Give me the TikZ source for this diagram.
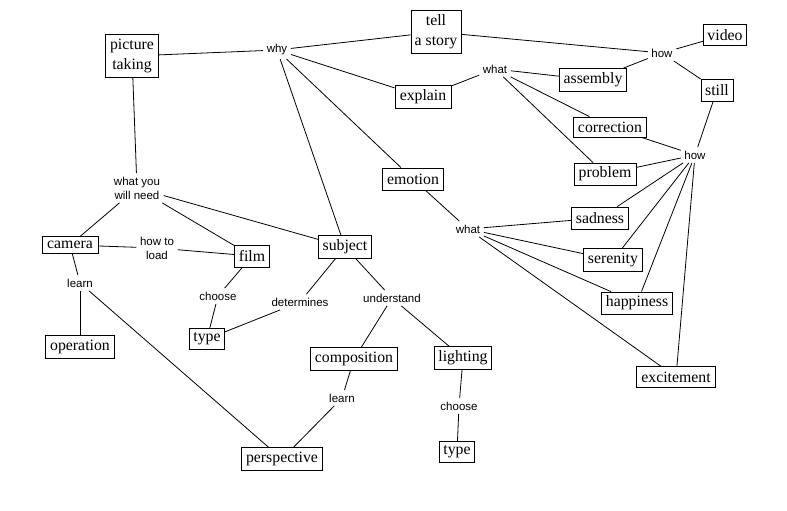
\documentclass[tikz,border=0pt]{standalone}
\usepackage{fontspec}
\setmainfont{Liberation Serif}
\newfontfamily\lblfont{Liberation Sans}
\begin{document}
\begin{tikzpicture}[x=1pt,y=-1pt,
  box/.style={draw, line width=0.8pt, inner sep=0pt, font=\fontsize{15.8}{20}\selectfont, align=center, minimum height=22pt},
  lbl/.style={inner sep=3.5pt, font=\lblfont\fontsize{11.5}{14}\selectfont, align=center},
  conn/.style={line width=0.8pt, draw=black}]
\useasboundingbox[fill=white] (0,0) rectangle (787,511);

% boxes
\node[box, minimum width=53pt, minimum height=43pt] (pic) at (132,56) {picture\\taking};
\node[box, minimum width=50pt, minimum height=43pt] (tell) at (436,32) {tell\\a story};
\node[box, minimum width=56pt, minimum height=17pt] (camera) at (70,245) {camera};
\node[box, minimum width=35pt] (film) at (252,256) {film};
\node[box, minimum width=53pt, minimum height=23pt] (subject) at (345,247) {subject};
\node[box, minimum width=43pt, minimum height=21pt] (video) at (725,35) {video};
\node[box, minimum width=67pt, minimum height=23pt] (assembly) at (593,80) {assembly};
\node[box, minimum width=32pt] (still) at (717,90) {still};
\node[box, minimum width=56pt, minimum height=23pt] (explain) at (423,97) {explain};
\node[box, minimum width=73pt, minimum height=20pt] (correction) at (610,127) {correction};
\node[box, minimum width=62pt] (problem) at (605,174) {problem};
\node[box, minimum width=61pt, minimum height=22pt] (emotion) at (413,179) {emotion};
\node[box, minimum width=57pt] (sadness) at (600,218) {sadness};
\node[box, minimum width=59pt, minimum height=23pt] (serenity) at (613,260) {serenity};
\node[box, minimum width=71pt] (happiness) at (637,303) {happiness};
\node[box, minimum width=79pt, minimum height=21pt] (excitement) at (676,377) {excitement};
\node[box, minimum width=57pt, minimum height=23pt] (lighting) at (463,358) {lighting};
\node[box, minimum width=35pt, minimum height=21pt] (typeB) at (457,452) {type};
\node[box, minimum width=69pt, minimum height=23pt] (operation) at (80,347) {operation};
\node[box, minimum width=35pt, minimum height=21pt] (typeL) at (207,339) {type};
\node[box, minimum width=87pt, minimum height=23pt] (composition) at (354,359) {composition};
\node[box, minimum width=81pt, minimum height=23pt] (perspective) at (282,459) {perspective};

% labels
\node[lbl] (why) at (277,50) {why};
\node[lbl] (need) at (137,188) {what you\\will need};
\node[lbl] (load) at (157,248) {how to\\load};
\node[lbl] (howT) at (662,53) {how};
\node[lbl] (whatT) at (495,69) {what};
\node[lbl] (howM) at (695,155) {how};
\node[lbl] (whatM) at (468,229) {what};
\node[lbl] (learnL) at (80,283) {learn};
\node[lbl] (chooseL) at (218,296) {choose};
\node[lbl] (determines) at (300,302) {determines};
\node[lbl] (understand) at (392,298) {understand};
\node[lbl] (learnB) at (342,398) {learn};
\node[lbl] (chooseB) at (459,406) {choose};

% connectors
\draw[conn] (pic) -- (why);
\draw[conn] (why) -- (tell);
\draw[conn] (why) -- (explain);
\draw[conn] (why) -- (emotion);
\draw[conn] (why) -- (subject);
\draw[conn] (pic) -- (need);
\draw[conn] (need) -- (camera);
\draw[conn] (need) -- (film);
\draw[conn] (need) -- (subject);
\draw[conn] (camera) -- (load);
\draw[conn] (load) -- (film);
\draw[conn] (camera) -- (learnL);
\draw[conn] (learnL) -- (operation);
\draw[conn] (learnL) -- (perspective);
\draw[conn] (film) -- (chooseL);
\draw[conn] (chooseL) -- (typeL);
\draw[conn] (subject) -- (determines);
\draw[conn] (determines) -- (typeL);
\draw[conn] (subject) -- (understand);
\draw[conn] (understand) -- (composition);
\draw[conn] (understand) -- (lighting);
\draw[conn] (composition) -- (learnB);
\draw[conn] (learnB) -- (perspective);
\draw[conn] (lighting) -- (chooseB);
\draw[conn] (chooseB) -- (typeB);
\draw[conn] (tell) -- (howT);
\draw[conn] (howT) -- (video);
\draw[conn] (howT) -- (assembly);
\draw[conn] (howT) -- (still);
\draw[conn] (explain) -- (whatT);
\draw[conn] (whatT) -- (assembly);
\draw[conn] (whatT) -- (correction);
\draw[conn] (whatT) -- (problem);
\draw[conn] (still) -- (howM);
\draw[conn] (howM) -- (correction);
\draw[conn] (howM) -- (problem);
\draw[conn] (howM) -- (sadness);
\draw[conn] (howM) -- (serenity);
\draw[conn] (howM) -- (happiness);
\draw[conn] (howM) -- (excitement);
\draw[conn] (emotion) -- (whatM);
\draw[conn] (whatM) -- (sadness);
\draw[conn] (whatM) -- (serenity);
\draw[conn] (whatM) -- (happiness);
\draw[conn] (whatM) -- (excitement);
\end{tikzpicture}
\end{document}
